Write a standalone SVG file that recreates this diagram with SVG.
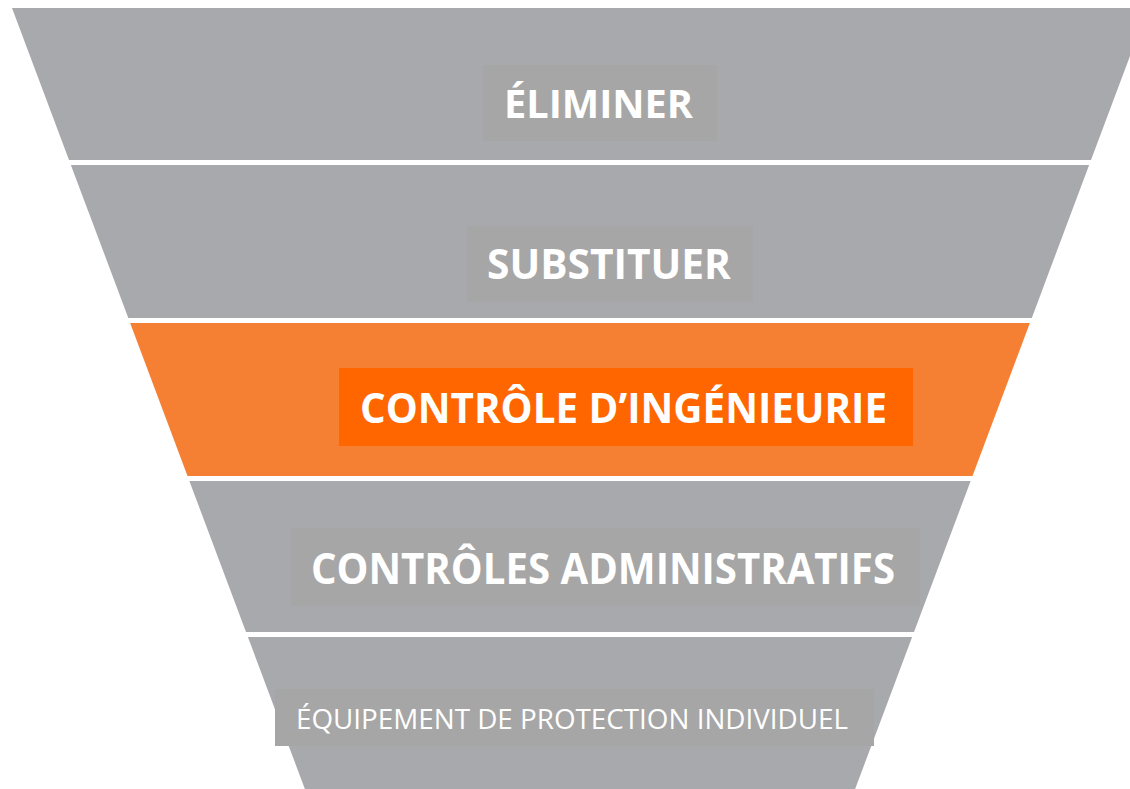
<svg xmlns="http://www.w3.org/2000/svg" width="1130" height="789" viewBox="0 0 1130 789">
<style>
.band{fill:#A8A9AC}
.orange{fill:#F58033}
.box{fill:#A6A6A6}
.obox{fill:#FF6600}
.lbl{font-family:"Open Sans","Noto Sans",sans-serif;font-weight:bold;fill:#FFFFFF}
.lblr{font-family:"Open Sans","Noto Sans",sans-serif;font-weight:normal;fill:#FFFFFF}
</style>
<rect width="1130" height="789" fill="#FFFFFF"/>
<g id="eliminer">
<polygon class="band" points="12,8 1148,8 1091,160 69,160"/>
<rect class="box" x="483" y="65" width="234" height="76"/>
<text class="lbl" x="504" y="118" font-size="40" textLength="189" lengthAdjust="spacingAndGlyphs">ÉLIMINER</text>
</g>
<g id="substituer">
<polygon class="band" points="70.9,165 1089.1,165 1031.8,318 128.3,318"/>
<rect class="box" x="467" y="226" width="286" height="76"/>
<text class="lbl" x="487" y="279" font-size="42" textLength="244" lengthAdjust="spacingAndGlyphs">SUBSTITUER</text>
</g>
<g id="ingenierie">
<polygon class="orange" points="130.1,323 1029.9,323 972.5,476 187.5,476"/>
<rect class="obox" x="339" y="368" width="574" height="78"/>
<text class="lbl" x="360" y="423" font-size="42" textLength="527" lengthAdjust="spacingAndGlyphs">CONTRÔLE D’INGÉNIEURIE</text>
</g>
<g id="administratifs">
<polygon class="band" points="189.4,481 970.6,481 914,632 246,632"/>
<rect class="box" x="291" y="528" width="629" height="78"/>
<text class="lbl" x="311" y="584" font-size="43" textLength="584" lengthAdjust="spacingAndGlyphs">CONTRÔLES ADMINISTRATIFS</text>
</g>
<g id="epi">
<polygon class="band" points="247.9,637 912.1,637 855.1,789 304.9,789"/>
<rect class="box" x="275" y="689" width="599" height="57"/>
<text class="lblr" x="296" y="729" font-size="28" textLength="552" lengthAdjust="spacingAndGlyphs">ÉQUIPEMENT DE PROTECTION INDIVIDUEL</text>
</g>
<g id="connectors"/>
</svg>
